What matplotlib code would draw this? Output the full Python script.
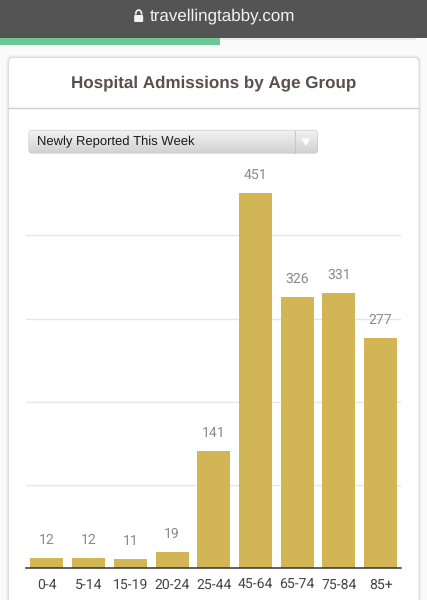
import numpy as np
import matplotlib
matplotlib.use('Agg')
import matplotlib.pyplot as plt
from matplotlib.patches import FancyBboxPatch, Rectangle, Polygon, Arc

plt.rcParams['text.hinting'] = 'no_hinting'
plt.rcParams['text.hinting_factor'] = 1

age_groups = ['0-4', '5-14', '15-19', '20-24', '25-44', '45-64', '65-74', '75-84', '85+']
admissions = [12, 12, 11, 19, 141, 451, 326, 331, 277]
grid_values = [100, 200, 300, 400]

fig = plt.figure(figsize=(4.275, 6), dpi=100, facecolor='#fafafa')

# page chrome drawn in pixel coordinates
bg = fig.add_axes([0, 0, 1, 1])
bg.set_xlim(0, 427)
bg.set_ylim(600, 0)
bg.axis('off')

# card with soft shadow
for grow, col in [(2.5, '#ececec'), (1.2, '#dddddd')]:
    bg.add_patch(FancyBboxPatch((9 - grow, 58 - grow), 409 + 2 * grow, 600, boxstyle='round,pad=0,rounding_size=6',
                                fc=col, ec='none', zorder=1))
bg.add_patch(FancyBboxPatch((9, 58), 409, 600, boxstyle='round,pad=0,rounding_size=5', fc='white', ec='none', zorder=2))
bg.plot([9, 418], [107.5, 107.5], color='#d0d0d0', lw=1, zorder=3)
bg.text(213.5, 83.5, 'Hospital Admissions by Age Group', family='Liberation Sans', weight='bold', fontsize=12.35,
        color='#5b4f4c', ha='center', va='center', zorder=3)

# previous card peeking out under the progress bar
bg.add_patch(FancyBboxPatch((200, 30), 216, 9, boxstyle='round,pad=0,rounding_size=3', fc='white', ec='#dcdcdc', lw=0.8, zorder=1))

# browser bar and progress bar
bg.add_patch(Rectangle((0, 0), 427, 38, fc='#545454', ec='none', zorder=4))
bg.add_patch(Rectangle((0, 38), 220, 6.5, fc='#6cc795', ec='none', zorder=4))
bg.text(150, 16, 'travellingtabby.com', family='Liberation Sans', fontsize=12.55, color='#f2f2f2',
        ha='left', va='center', zorder=5)
bg.add_patch(FancyBboxPatch((134, 15), 9, 7, boxstyle='round,pad=0,rounding_size=1', fc='#f2f2f2', ec='none', zorder=5))
bg.add_patch(Arc((138.5, 14.5), 6, 9, theta1=180, theta2=360, ec='#f2f2f2', lw=1.2, zorder=5))

# dropdown
box = FancyBboxPatch((29, 130.5), 288, 22.5, boxstyle='round,pad=0,rounding_size=3', fc='#dddddd', ec='#c4c4c4', lw=0.8, zorder=3)
bg.add_patch(box)
grad = np.linspace(0.95, 0.82, 32).reshape(-1, 1)
im = bg.imshow(grad, extent=(29, 317, 153, 130.5), cmap='gray', vmin=0, vmax=1, aspect='auto', zorder=3.1)
im.set_clip_path(box)
bg.set_xlim(0, 427)
bg.set_ylim(600, 0)
bg.plot([294.5, 294.5], [131, 153], color='#c8c8c8', lw=0.8, zorder=3.2)
bg.add_patch(Polygon([[301, 138.5], [310, 138.5], [305.5, 146]], fc='white', ec='none', zorder=3.2))
bg.text(36.5, 142, 'Newly Reported This Week', family='Liberation Sans', fontsize=9.65, color='#1a1a1a',
        ha='left', va='center', zorder=3.3)

# chart
px_per_unit = 375 / 451
ax = fig.add_axes([26 / 427, 32 / 600, 375 / 427, 408 / 600])
ax.patch.set_alpha(0)
ax.set_xlim(-0.5, 8.5)
ax.set_ylim(0, 408 / px_per_unit)
x = np.arange(len(age_groups))
bars = ax.bar(x, admissions, width=0.79, color='#d2b555', zorder=2)
for v in grid_values:
    ax.axhline(v, color='#e6e6e6', lw=1, zorder=1)
for b, v in zip(bars, admissions):
    ax.annotate(str(v), (b.get_x() + b.get_width() / 2, v), xytext=(0, 11), textcoords='offset pixels',
                ha='center', va='bottom', family='Roboto', fontsize=10.4, color='#8a8a8a')
ax.set_xticks(x, age_groups, family='Roboto', fontsize=10, color='#444444')
ax.set_yticks([])
ax.tick_params(axis='x', length=0, pad=7.5)
for s in ['top', 'left', 'right']:
    ax.spines[s].set_visible(False)
ax.spines['bottom'].set_color('#333333')
ax.spines['bottom'].set_linewidth(1.1)

fig.savefig('out.png', dpi=100)
